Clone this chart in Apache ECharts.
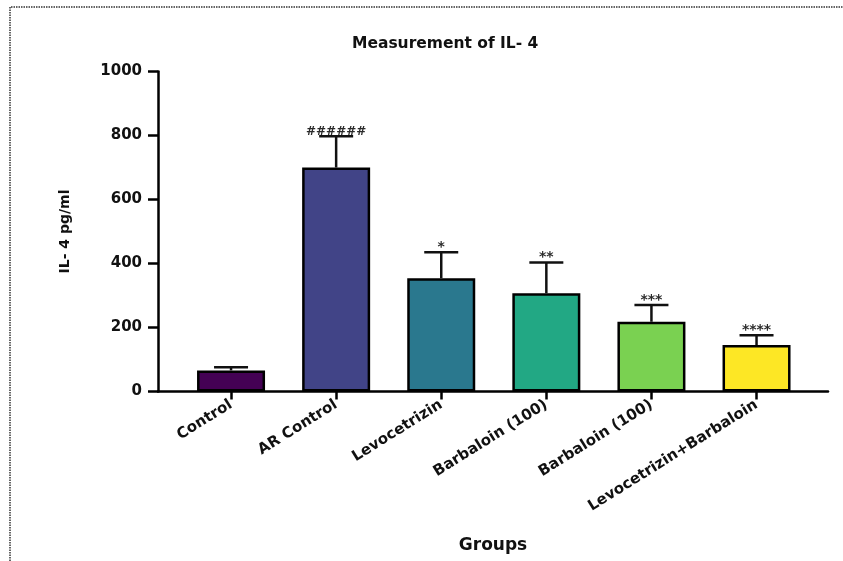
<!DOCTYPE html>
<html>
<head>
<meta charset="utf-8">
<script src="https://cdn.jsdelivr.net/npm/echarts@6/dist/echarts.min.js"></script>
<style>
  html, body { margin: 0; padding: 0; background: #ffffff; }
  #chart { width: 843px; height: 561px; }
</style>
</head>
<body>
<div id="chart"></div>
<script>
// ---- data ----
const categories = ['Control', 'AR Control', 'Levocetrizin', 'Barbaloin (100)', 'Barbaloin (100)', 'Levocetrizin+Barbaloin'];
const means = [66, 700, 354, 307, 218, 145];
const errors = [10, 98, 81, 96, 52, 31];
const significance = ['', '######', '*', '**', '***', '****'];
const barColors = ['#440154', '#414487', '#2a788e', '#22a884', '#7ad151', '#fde725'];
const yTicks = [0, 200, 400, 600, 800, 1000];

const FONT = 'DejaVu Sans';
const chart = echarts.init(document.getElementById('chart'), null, { renderer: 'canvas' });

const barData = means.map((v, i) => ({
  value: [i, v],
  itemStyle: { color: barColors[i] }
}));
const errData = means.map((v, i) => [i, v, errors[i], i]);

chart.setOption({
  animation: false,
  backgroundColor: '#ffffff',
  title: {
    text: 'Measurement of IL- 4',
    left: 347,
    top: 31,
    textStyle: { fontFamily: FONT, fontWeight: 'bold', fontSize: 15.5, color: '#111' }
  },
  graphic: [{
    type: 'polyline',
    shape: { points: [[10, 561], [10, 7], [843, 7]] },
    style: { stroke: '#333', lineWidth: 1.5, lineDash: [1.5, 1], fill: null },
    silent: true
  }],
  grid: { left: 158, right: 15, top: 71.5, bottom: 169.5, containLabel: false },
  xAxis: {
    type: 'value',
    min: -0.695,
    max: 5.68,
    name: 'Groups',
    nameLocation: 'middle',
    nameGap: 146,
    nameTextStyle: { fontFamily: FONT, fontWeight: 'bold', fontSize: 17, color: '#111' },
    splitLine: { show: false },
    axisLine: { show: true, onZero: false, lineStyle: { color: '#000', width: 2.5 } },
    axisTick: { show: true, length: 8, customValues: [0, 1, 2, 3, 4, 5], lineStyle: { color: '#000', width: 2.5 } },
    axisLabel: {
      customValues: [0, 1, 2, 3, 4, 5],
      rotate: 32,
      margin: 12,
      formatter: v => categories[Math.round(v)] || '',
      fontFamily: FONT, fontWeight: 'bold', fontSize: 15, color: '#111'
    }
  },
  yAxis: {
    type: 'value',
    min: 0,
    max: 1000,
    interval: 200,
    name: 'IL- 4 pg/ml',
    nameLocation: 'middle',
    nameRotate: 90,
    nameGap: 86,
    nameTextStyle: { fontFamily: FONT, fontWeight: 'bold', fontSize: 14, color: '#111' },
    splitLine: { show: false },
    axisLine: { show: true, onZero: false, lineStyle: { color: '#000', width: 2.5 } },
    axisTick: { show: true, length: 10, lineStyle: { color: '#000', width: 2.5 } },
    axisLabel: {
      margin: 16,
      formatter: v => (yTicks.indexOf(v) >= 0 ? String(v) : ''),
      fontFamily: FONT, fontWeight: 'bold', fontSize: 15, color: '#111'
    }
  },
  series: [
    {
      type: 'custom',
      name: 'error',
      z: 1,
      renderItem: function (params, api) {
        const x = api.value(0), v = api.value(1), e = api.value(2);
        const idx = api.value(3);
        const p0 = api.coord([x, v]);
        const p1 = api.coord([x, v + e]);
        const half = 17;
        const style = { stroke: '#111', lineWidth: 2.5 };
        return {
          type: 'group',
          children: [
            { type: 'line', shape: { x1: p0[0], y1: p0[1], x2: p1[0], y2: p1[1] }, style: style },
            { type: 'line', shape: { x1: p1[0] - half, y1: p1[1], x2: p1[0] + half, y2: p1[1] }, style: style },
            {
              type: 'text',
              x: p1[0], y: p1[1] + 2,
              style: {
                text: significance[idx],
                fontFamily: FONT, fontWeight: 'bold',
                fontSize: significance[idx].charAt(0) === '#' ? 12 : 14,
                fill: '#2a2a2a',
                align: 'center', verticalAlign: 'bottom'
              }
            }
          ]
        };
      },
      data: errData
    },
    {
      type: 'bar',
      name: 'IL-4',
      z: 2,
      barWidth: 68,
      data: barData,
      itemStyle: { borderColor: '#000', borderWidth: 2.5 }
    }
  ]
});
</script>
</body>
</html>
